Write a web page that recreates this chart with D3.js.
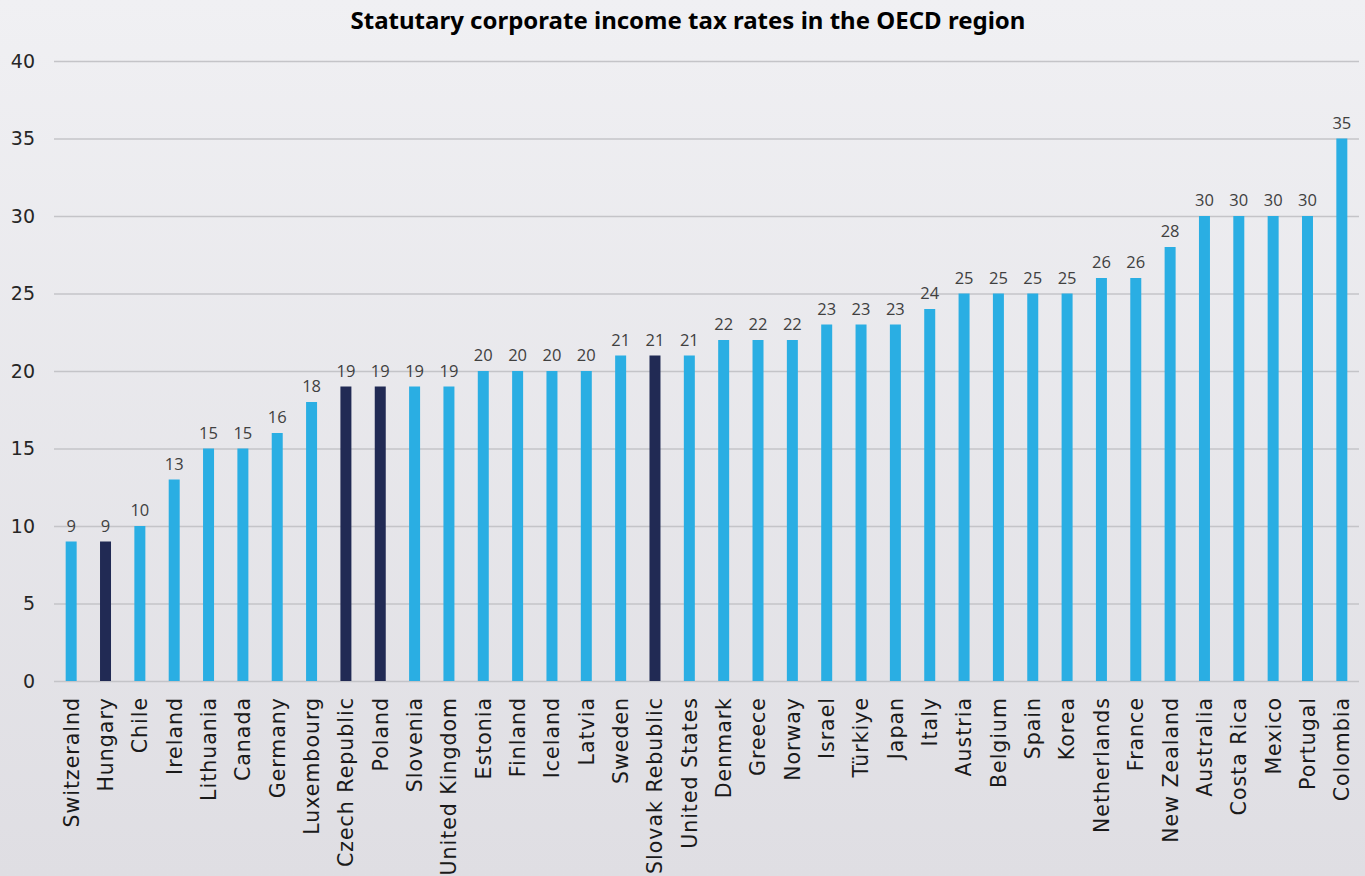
<!DOCTYPE html>
<html>
<head>
<meta charset="utf-8">
<script src="https://cdn.jsdelivr.net/npm/d3@7"></script>
<style>
  html, body { margin: 0; padding: 0; }
  body { width: 1365px; height: 876px; overflow: hidden; }
</style>
</head>
<body>
<svg id="chart" width="1365" height="876"></svg>
<script>
// Statutory corporate income tax rates (%), sorted ascending
const countries = ["Switzeralnd", "Hungary", "Chile", "Ireland", "Lithuania", "Canada", "Germany",
  "Luxembourg", "Czech Republic", "Poland", "Slovenia", "United Kingdom", "Estonia", "Finland",
  "Iceland", "Latvia", "Sweden", "Slovak Rebublic", "United States", "Denmark", "Greece", "Norway",
  "Israel", "Türkiye", "Japan", "Italy", "Austria", "Belgium", "Spain", "Korea", "Netherlands",
  "France", "New Zealand", "Australia", "Costa Rica", "Mexico", "Portugal", "Colombia"];
const rates = [9, 9, 10, 13, 15, 15, 16, 18, 19, 19, 19, 19, 20, 20, 20, 20, 21, 21, 21, 22, 22, 22,
  23, 23, 23, 24, 25, 25, 25, 25, 26, 26, 28, 30, 30, 30, 30, 35];
// Countries shown in the highlight colour
const highlighted = ["Hungary", "Czech Republic", "Poland", "Slovak Rebublic"];
const yTicks = [0, 5, 10, 15, 20, 25, 30, 35, 40];
const chartTitle = "Statutary corporate income tax rates in the OECD region";

const W = 1365, H = 876;
const margin = { top: 61, right: 6, bottom: 195, left: 54 };
const svg = d3.select("#chart");

// Soft vertical background gradient
const defs = svg.append("defs");
const grad = defs.append("linearGradient").attr("id", "bg").attr("x1", 0).attr("y1", 0).attr("x2", 0).attr("y2", 1);
grad.append("stop").attr("offset", "0%").attr("stop-color", "#f0f0f3");
grad.append("stop").attr("offset", "100%").attr("stop-color", "#dfdee3");
svg.append("rect").attr("width", W).attr("height", H).attr("fill", "url(#bg)");

const x = d3.scaleBand()
  .domain(countries)
  .range([margin.left, W - margin.right])
  .paddingInner(0.68)
  .paddingOuter(0.34);

const y = d3.scaleLinear().domain([0, 40]).range([H - margin.bottom, margin.top]);

// Horizontal grid lines with tick labels
const yAxis = d3.axisLeft(y)
  .tickValues(yTicks)
  .tickSize(-(W - margin.right - margin.left))
  .tickPadding(19);
const gy = svg.append("g").attr("transform", `translate(${margin.left},0)`).call(yAxis);
gy.select(".domain").remove();
gy.selectAll(".tick line").attr("stroke", "#c4c4c8").attr("stroke-width", 1.5);
gy.selectAll(".tick text")
  .attr("fill", "#262626")
  .style("font-family", "'DejaVu Sans', sans-serif")
  .style("font-size", "19px");

// Bars
const data = countries.map((c, i) => ({ country: c, rate: rates[i] }));
svg.append("g").selectAll("rect")
  .data(data)
  .join("rect")
  .attr("x", d => x(d.country))
  .attr("width", x.bandwidth())
  .attr("y", d => y(d.rate))
  .attr("height", d => y(0) - y(d.rate))
  .attr("fill", d => highlighted.includes(d.country) ? "#212a54" : "#2aaee3");

// Value labels above bars
svg.append("g").selectAll("text")
  .data(data)
  .join("text")
  .attr("x", d => x(d.country) + x.bandwidth() / 2)
  .attr("y", d => y(d.rate) - 10)
  .attr("text-anchor", "middle")
  .attr("fill", "#404040")
  .style("font-family", "'Open Sans', sans-serif")
  .style("font-size", "16.5px")
  .text(d => d.rate);

// Category axis, labels rotated vertically
const xAxis = d3.axisBottom(x).tickSize(0).tickPadding(0);
const gx = svg.append("g").attr("transform", `translate(0,${y(0)})`).call(xAxis);
gx.select(".domain").remove();
gx.selectAll(".tick text")
  .attr("transform", "rotate(-90)")
  .attr("x", -16)
  .attr("y", 0)
  .attr("dy", "0.36em")
  .attr("text-anchor", "end")
  .attr("fill", "#1a1a1a")
  .style("font-family", "'DejaVu Sans', sans-serif")
  .style("font-size", "20.5px")
  .style("letter-spacing", "1px");

// Title
svg.append("text")
  .attr("x", 688)
  .attr("y", 29)
  .attr("text-anchor", "middle")
  .attr("fill", "#000")
  .style("font-family", "'Noto Sans', sans-serif")
  .style("font-weight", "700")
  .style("font-size", "24px")
  .text(chartTitle);
</script>
</body>
</html>
